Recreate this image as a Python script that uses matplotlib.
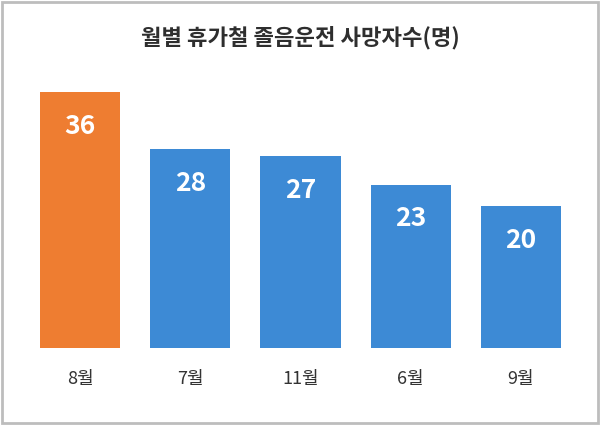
import matplotlib; matplotlib.use("Agg")
import matplotlib.pyplot as plt
from matplotlib.patches import Rectangle

# the CJK TTC may register under any one of these names
plt.rcParams["font.family"] = ["Noto Sans CJK KR", "Noto Sans CJK JP", "Noto Sans CJK SC",
                               "Noto Sans CJK TC", "DejaVu Sans"]

months = ["8월", "7월", "11월", "6월", "9월"]
deaths = [36, 28, 27, 23, 20]
colors = ["#EE7D31", "#3D8AD5", "#3D8AD5", "#3D8AD5", "#3D8AD5"]

fig = plt.figure(figsize=(6, 4.25), dpi=100)
fig.patch.set_facecolor("white")
# grey frame around the picture
fig.add_artist(Rectangle((0.004, 0.005), 0.992, 0.99, transform=fig.transFigure,
                         fill=False, edgecolor="#BDBDBD", lw=2))

ax = fig.add_axes([25/600, 77/425, 551/600, 278/425])
x = range(len(months))
ax.bar(x, deaths, width=0.727, color=colors)
for i, v in zip(x, deaths):
    ax.text(i, v - 4.8, str(v), ha="center", va="center", color="white",
            fontsize=19, fontweight="bold")
ax.set_xlim(-0.5, len(months) - 0.5)
ax.set_ylim(0, 278/7.1)
ax.set_xticks(list(x), months, fontsize=13, color="#333333")
ax.tick_params(length=0, pad=16)
for s in ax.spines.values():
    s.set_visible(False)
ax.set_yticks([])

fig.text(0.5, 1 - 38/425, "월별 휴가철 졸음운전 사망자수(명)", ha="center", va="center",
         fontsize=16, fontweight="bold", color="#2E2E2E")
fig.savefig("out.png", dpi=100)
